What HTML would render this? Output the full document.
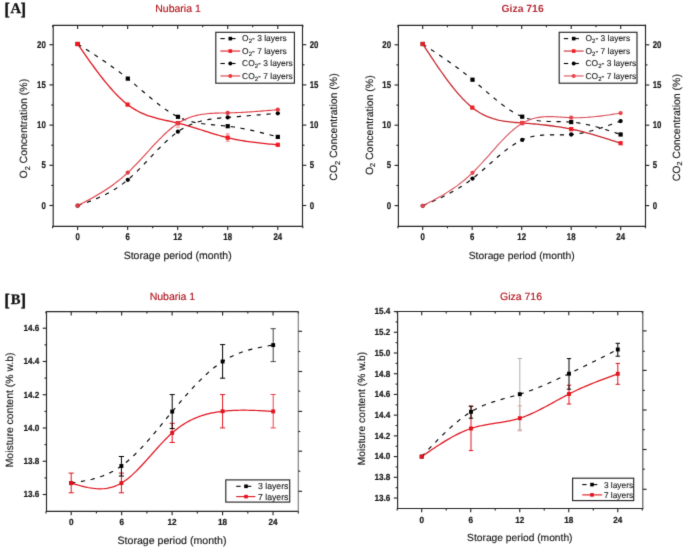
<!DOCTYPE html>
<html><head><meta charset="utf-8"><style>
html,body{margin:0;padding:0;background:#fff;}
svg{display:block;font-family:"Liberation Sans", sans-serif;text-rendering:geometricPrecision;}
</style></head><body>
<svg width="685" height="548" viewBox="0 0 685 548">
<defs><filter id="soft" x="0" y="0" width="100%" height="100%" color-interpolation-filters="sRGB"><feConvolveMatrix order="3" kernelMatrix="0.01134 0.08382 0.01134 0.08382 0.61935 0.08382 0.01134 0.08382 0.01134" divisor="1" edgeMode="duplicate"/></filter></defs>
<g filter="url(#soft)">
<rect width="685" height="548" fill="#fff"/>
<path d="M53.20,226.30 L53.20,25.30 L302.50,25.30" fill="none" stroke="#262626" stroke-width="1.15" stroke-linecap="square"/>
<path d="M53.20,226.30 L302.50,226.30" fill="none" stroke="#262626" stroke-width="1.15" stroke-linecap="square"/>
<path d="M302.50,25.30 L302.50,226.30" fill="none" stroke="#262626" stroke-width="1.15" stroke-linecap="square"/>
<line x1="77.60" y1="226.30" x2="77.60" y2="230.10" stroke="#262626" stroke-width="1.15" />
<line x1="77.60" y1="25.30" x2="77.60" y2="29.10" stroke="#262626" stroke-width="1.15" />
<text x="0" y="0" transform="translate(77.60,239.90) scale(0.8,1)" font-size="9.8" text-anchor="middle" font-weight="bold" fill="#1a1a1a" stroke="#111" stroke-width="0.22" style="">0</text>
<line x1="127.64" y1="226.30" x2="127.64" y2="230.10" stroke="#262626" stroke-width="1.15" />
<line x1="127.64" y1="25.30" x2="127.64" y2="29.10" stroke="#262626" stroke-width="1.15" />
<text x="0" y="0" transform="translate(127.64,239.90) scale(0.8,1)" font-size="9.8" text-anchor="middle" font-weight="bold" fill="#1a1a1a" stroke="#111" stroke-width="0.22" style="">6</text>
<line x1="177.68" y1="226.30" x2="177.68" y2="230.10" stroke="#262626" stroke-width="1.15" />
<line x1="177.68" y1="25.30" x2="177.68" y2="29.10" stroke="#262626" stroke-width="1.15" />
<text x="0" y="0" transform="translate(177.68,239.90) scale(0.8,1)" font-size="9.8" text-anchor="middle" font-weight="bold" fill="#1a1a1a" stroke="#111" stroke-width="0.22" style="">12</text>
<line x1="227.72" y1="226.30" x2="227.72" y2="230.10" stroke="#262626" stroke-width="1.15" />
<line x1="227.72" y1="25.30" x2="227.72" y2="29.10" stroke="#262626" stroke-width="1.15" />
<text x="0" y="0" transform="translate(227.72,239.90) scale(0.8,1)" font-size="9.8" text-anchor="middle" font-weight="bold" fill="#1a1a1a" stroke="#111" stroke-width="0.22" style="">18</text>
<line x1="277.76" y1="226.30" x2="277.76" y2="230.10" stroke="#262626" stroke-width="1.15" />
<line x1="277.76" y1="25.30" x2="277.76" y2="29.10" stroke="#262626" stroke-width="1.15" />
<text x="0" y="0" transform="translate(277.76,239.90) scale(0.8,1)" font-size="9.8" text-anchor="middle" font-weight="bold" fill="#1a1a1a" stroke="#111" stroke-width="0.22" style="">24</text>
<line x1="52.58" y1="226.30" x2="52.58" y2="228.30" stroke="#262626" stroke-width="1.15" />
<line x1="52.58" y1="25.30" x2="52.58" y2="27.30" stroke="#262626" stroke-width="1.15" />
<line x1="102.62" y1="226.30" x2="102.62" y2="228.30" stroke="#262626" stroke-width="1.15" />
<line x1="102.62" y1="25.30" x2="102.62" y2="27.30" stroke="#262626" stroke-width="1.15" />
<line x1="152.66" y1="226.30" x2="152.66" y2="228.30" stroke="#262626" stroke-width="1.15" />
<line x1="152.66" y1="25.30" x2="152.66" y2="27.30" stroke="#262626" stroke-width="1.15" />
<line x1="202.70" y1="226.30" x2="202.70" y2="228.30" stroke="#262626" stroke-width="1.15" />
<line x1="202.70" y1="25.30" x2="202.70" y2="27.30" stroke="#262626" stroke-width="1.15" />
<line x1="252.74" y1="226.30" x2="252.74" y2="228.30" stroke="#262626" stroke-width="1.15" />
<line x1="252.74" y1="25.30" x2="252.74" y2="27.30" stroke="#262626" stroke-width="1.15" />
<line x1="302.78" y1="226.30" x2="302.78" y2="228.30" stroke="#262626" stroke-width="1.15" />
<line x1="302.78" y1="25.30" x2="302.78" y2="27.30" stroke="#262626" stroke-width="1.15" />
<line x1="49.40" y1="205.50" x2="53.20" y2="205.50" stroke="#262626" stroke-width="1.15" />
<text x="0" y="0" transform="translate(45.80,208.50) scale(0.8,1)" font-size="9.8" text-anchor="end" font-weight="bold" fill="#1a1a1a" stroke="#111" stroke-width="0.22" style="">0</text>
<line x1="49.40" y1="165.30" x2="53.20" y2="165.30" stroke="#262626" stroke-width="1.15" />
<text x="0" y="0" transform="translate(45.80,168.30) scale(0.8,1)" font-size="9.8" text-anchor="end" font-weight="bold" fill="#1a1a1a" stroke="#111" stroke-width="0.22" style="">5</text>
<line x1="49.40" y1="125.10" x2="53.20" y2="125.10" stroke="#262626" stroke-width="1.15" />
<text x="0" y="0" transform="translate(45.80,128.10) scale(0.8,1)" font-size="9.8" text-anchor="end" font-weight="bold" fill="#1a1a1a" stroke="#111" stroke-width="0.22" style="">10</text>
<line x1="49.40" y1="84.90" x2="53.20" y2="84.90" stroke="#262626" stroke-width="1.15" />
<text x="0" y="0" transform="translate(45.80,87.90) scale(0.8,1)" font-size="9.8" text-anchor="end" font-weight="bold" fill="#1a1a1a" stroke="#111" stroke-width="0.22" style="">15</text>
<line x1="49.40" y1="44.70" x2="53.20" y2="44.70" stroke="#262626" stroke-width="1.15" />
<text x="0" y="0" transform="translate(45.80,47.70) scale(0.8,1)" font-size="9.8" text-anchor="end" font-weight="bold" fill="#1a1a1a" stroke="#111" stroke-width="0.22" style="">20</text>
<line x1="51.20" y1="185.40" x2="53.20" y2="185.40" stroke="#262626" stroke-width="1.15" />
<line x1="51.20" y1="145.20" x2="53.20" y2="145.20" stroke="#262626" stroke-width="1.15" />
<line x1="51.20" y1="105.00" x2="53.20" y2="105.00" stroke="#262626" stroke-width="1.15" />
<line x1="51.20" y1="64.80" x2="53.20" y2="64.80" stroke="#262626" stroke-width="1.15" />
<line x1="302.50" y1="205.50" x2="306.30" y2="205.50" stroke="#262626" stroke-width="1.15" />
<text x="0" y="0" transform="translate(309.70,208.50) scale(0.8,1)" font-size="9.8" text-anchor="start" font-weight="bold" fill="#1a1a1a" stroke="#111" stroke-width="0.22" style="">0</text>
<line x1="302.50" y1="165.30" x2="306.30" y2="165.30" stroke="#262626" stroke-width="1.15" />
<text x="0" y="0" transform="translate(309.70,168.30) scale(0.8,1)" font-size="9.8" text-anchor="start" font-weight="bold" fill="#1a1a1a" stroke="#111" stroke-width="0.22" style="">5</text>
<line x1="302.50" y1="125.10" x2="306.30" y2="125.10" stroke="#262626" stroke-width="1.15" />
<text x="0" y="0" transform="translate(309.70,128.10) scale(0.8,1)" font-size="9.8" text-anchor="start" font-weight="bold" fill="#1a1a1a" stroke="#111" stroke-width="0.22" style="">10</text>
<line x1="302.50" y1="84.90" x2="306.30" y2="84.90" stroke="#262626" stroke-width="1.15" />
<text x="0" y="0" transform="translate(309.70,87.90) scale(0.8,1)" font-size="9.8" text-anchor="start" font-weight="bold" fill="#1a1a1a" stroke="#111" stroke-width="0.22" style="">15</text>
<line x1="302.50" y1="44.70" x2="306.30" y2="44.70" stroke="#262626" stroke-width="1.15" />
<text x="0" y="0" transform="translate(309.70,47.70) scale(0.8,1)" font-size="9.8" text-anchor="start" font-weight="bold" fill="#1a1a1a" stroke="#111" stroke-width="0.22" style="">20</text>
<line x1="302.50" y1="185.40" x2="304.50" y2="185.40" stroke="#262626" stroke-width="1.15" />
<line x1="302.50" y1="145.20" x2="304.50" y2="145.20" stroke="#262626" stroke-width="1.15" />
<line x1="302.50" y1="105.00" x2="304.50" y2="105.00" stroke="#262626" stroke-width="1.15" />
<line x1="302.50" y1="64.80" x2="304.50" y2="64.80" stroke="#262626" stroke-width="1.15" />
<text x="0" y="0" font-size="10.5" text-anchor="middle" fill="#1a1a1a" stroke="#1a1a1a" stroke-width="0.15" transform="translate(27.00,128.65) rotate(-90)">O<tspan font-size="7.2" dy="2.6">2</tspan><tspan dy="-2.6"> Concentration (%)</tspan></text>
<text x="0" y="0" font-size="10.5" text-anchor="middle" fill="#1a1a1a" stroke="#1a1a1a" stroke-width="0.15" transform="translate(337.00,127.00) rotate(-90)">CO<tspan font-size="7.2" dy="2.6">2</tspan><tspan dy="-2.6"> Concentration (%)</tspan></text>
<text x="177.70" y="258.90" font-size="10.5" text-anchor="middle" font-weight="normal" fill="#1a1a1a" stroke="#1a1a1a" stroke-width="0.15" style="">Storage period (month)</text>
<path d="M77.60,44.00 L79.69,45.31 L81.78,46.63 L83.88,47.95 L85.97,49.27 L88.06,50.60 L90.15,51.94 L92.24,53.28 L94.33,54.63 L96.42,55.99 L98.52,57.37 L100.61,58.76 L102.70,60.16 L104.79,61.58 L106.88,63.01 L108.97,64.46 L111.07,65.94 L113.16,67.43 L115.25,68.95 L117.34,70.49 L119.43,72.06 L121.53,73.65 L123.62,75.27 L125.71,76.92 L127.80,78.60 L129.89,80.31 L131.98,82.05 L134.07,83.81 L136.17,85.58 L138.26,87.37 L140.35,89.16 L142.44,90.96 L144.53,92.75 L146.62,94.53 L148.72,96.30 L150.81,98.05 L152.90,99.78 L154.99,101.47 L157.08,103.14 L159.18,104.76 L161.27,106.34 L163.36,107.88 L165.45,109.35 L167.54,110.77 L169.63,112.13 L171.72,113.41 L173.82,114.62 L175.91,115.75 L178.00,116.80 L180.07,117.75 L182.14,118.62 L184.21,119.41 L186.28,120.12 L188.35,120.77 L190.43,121.35 L192.50,121.87 L194.57,122.34 L196.64,122.76 L198.71,123.13 L200.78,123.46 L202.85,123.76 L204.92,124.02 L206.99,124.26 L209.06,124.47 L211.13,124.67 L213.20,124.86 L215.27,125.04 L217.35,125.21 L219.42,125.39 L221.49,125.57 L223.56,125.76 L225.63,125.97 L227.70,126.20 L229.79,126.46 L231.88,126.73 L233.96,127.04 L236.05,127.36 L238.14,127.71 L240.22,128.08 L242.31,128.46 L244.40,128.86 L246.49,129.28 L248.57,129.72 L250.66,130.17 L252.75,130.64 L254.84,131.11 L256.93,131.60 L259.01,132.10 L261.10,132.61 L263.19,133.13 L265.27,133.65 L267.36,134.19 L269.45,134.72 L271.54,135.26 L273.62,135.81 L275.71,136.35 L277.80,136.90" fill="none" stroke="#000" stroke-width="1.15" stroke-dasharray="4.2 5.7" stroke-linejoin="round"/>
<path d="M77.60,44.00 L79.68,46.99 L81.77,49.97 L83.85,52.95 L85.93,55.91 L88.02,58.85 L90.10,61.76 L92.18,64.65 L94.27,67.50 L96.35,70.32 L98.43,73.09 L100.52,75.81 L102.60,78.48 L104.68,81.09 L106.77,83.64 L108.85,86.12 L110.93,88.53 L113.02,90.86 L115.10,93.11 L117.18,95.27 L119.27,97.34 L121.35,99.31 L123.43,101.18 L125.52,102.95 L127.60,104.60 L129.70,106.15 L131.79,107.58 L133.89,108.92 L135.98,110.15 L138.08,111.28 L140.18,112.33 L142.27,113.30 L144.37,114.20 L146.46,115.02 L148.56,115.78 L150.65,116.48 L152.75,117.13 L154.85,117.74 L156.94,118.30 L159.04,118.84 L161.13,119.34 L163.23,119.82 L165.32,120.29 L167.42,120.75 L169.52,121.20 L171.61,121.66 L173.71,122.12 L175.80,122.60 L177.90,123.10 L179.97,123.62 L182.05,124.16 L184.12,124.72 L186.20,125.31 L188.28,125.91 L190.35,126.52 L192.43,127.15 L194.50,127.79 L196.57,128.44 L198.65,129.09 L200.72,129.75 L202.80,130.41 L204.88,131.07 L206.95,131.73 L209.03,132.38 L211.10,133.02 L213.17,133.66 L215.25,134.29 L217.32,134.90 L219.40,135.50 L221.47,136.08 L223.55,136.64 L225.62,137.18 L227.70,137.70 L229.79,138.19 L231.88,138.66 L233.96,139.11 L236.05,139.53 L238.14,139.93 L240.22,140.30 L242.31,140.66 L244.40,141.00 L246.49,141.32 L248.57,141.63 L250.66,141.92 L252.75,142.20 L254.84,142.46 L256.93,142.71 L259.01,142.95 L261.10,143.18 L263.19,143.40 L265.27,143.62 L267.36,143.82 L269.45,144.03 L271.54,144.22 L273.62,144.42 L275.71,144.61 L277.80,144.80" fill="none" stroke="#e0141e" stroke-width="1.3"  stroke-linejoin="round"/>
<path d="M77.60,205.70 L79.69,204.96 L81.78,204.22 L83.88,203.47 L85.97,202.71 L88.06,201.94 L90.15,201.15 L92.24,200.34 L94.33,199.50 L96.42,198.64 L98.52,197.74 L100.61,196.80 L102.70,195.83 L104.79,194.82 L106.88,193.75 L108.97,192.64 L111.07,191.48 L113.16,190.25 L115.25,188.97 L117.34,187.62 L119.43,186.21 L121.53,184.72 L123.62,183.16 L125.71,181.52 L127.80,179.80 L129.89,178.00 L131.97,176.12 L134.06,174.17 L136.15,172.16 L138.24,170.10 L140.32,168.00 L142.41,165.85 L144.50,163.68 L146.59,161.49 L148.68,159.29 L150.76,157.08 L152.85,154.88 L154.94,152.68 L157.03,150.51 L159.11,148.37 L161.20,146.26 L163.29,144.20 L165.38,142.19 L167.46,140.24 L169.55,138.36 L171.64,136.56 L173.73,134.85 L175.81,133.22 L177.90,131.70 L179.97,130.29 L182.05,128.99 L184.12,127.79 L186.20,126.68 L188.28,125.66 L190.35,124.73 L192.43,123.87 L194.50,123.10 L196.57,122.39 L198.65,121.76 L200.72,121.18 L202.80,120.67 L204.88,120.21 L206.95,119.80 L209.03,119.43 L211.10,119.10 L213.17,118.81 L215.25,118.55 L217.32,118.32 L219.40,118.11 L221.47,117.92 L223.55,117.74 L225.62,117.57 L227.70,117.40 L229.79,117.23 L231.88,117.06 L233.96,116.90 L236.05,116.73 L238.14,116.56 L240.22,116.39 L242.31,116.22 L244.40,116.05 L246.49,115.88 L248.57,115.71 L250.66,115.54 L252.75,115.37 L254.84,115.19 L256.93,115.02 L259.01,114.85 L261.10,114.68 L263.19,114.51 L265.27,114.33 L267.36,114.16 L269.45,113.99 L271.54,113.82 L273.62,113.65 L275.71,113.47 L277.80,113.30" fill="none" stroke="#000" stroke-width="1.15" stroke-dasharray="4.2 5.7" stroke-linejoin="round"/>
<path d="M77.60,205.70 L79.69,204.61 L81.78,203.52 L83.88,202.42 L85.97,201.32 L88.06,200.20 L90.15,199.06 L92.24,197.91 L94.33,196.74 L96.42,195.54 L98.52,194.31 L100.61,193.06 L102.70,191.77 L104.79,190.45 L106.88,189.08 L108.97,187.67 L111.07,186.22 L113.16,184.72 L115.25,183.17 L117.34,181.56 L119.43,179.90 L121.53,178.17 L123.62,176.38 L125.71,174.53 L127.80,172.60 L129.89,170.61 L131.97,168.55 L134.06,166.44 L136.15,164.28 L138.24,162.07 L140.32,159.84 L142.41,157.58 L144.50,155.31 L146.59,153.03 L148.68,150.75 L150.76,148.48 L152.85,146.22 L154.94,143.99 L157.03,141.79 L159.11,139.64 L161.20,137.53 L163.29,135.48 L165.38,133.49 L167.46,131.58 L169.55,129.75 L171.64,128.01 L173.73,126.36 L175.81,124.82 L177.90,123.40 L179.97,122.10 L182.05,120.92 L184.12,119.85 L186.20,118.88 L188.28,118.01 L190.35,117.23 L192.43,116.54 L194.50,115.93 L196.57,115.40 L198.65,114.94 L200.72,114.55 L202.80,114.21 L204.88,113.93 L206.95,113.70 L209.03,113.51 L211.10,113.37 L213.17,113.25 L215.25,113.16 L217.32,113.10 L219.40,113.05 L221.47,113.01 L223.55,112.97 L225.62,112.94 L227.70,112.90 L229.79,112.85 L231.88,112.79 L233.96,112.72 L236.05,112.64 L238.14,112.55 L240.22,112.45 L242.31,112.34 L244.40,112.23 L246.49,112.11 L248.57,111.98 L250.66,111.84 L252.75,111.70 L254.84,111.55 L256.93,111.40 L259.01,111.24 L261.10,111.08 L263.19,110.92 L265.27,110.75 L267.36,110.58 L269.45,110.41 L271.54,110.23 L273.62,110.06 L275.71,109.88 L277.80,109.70" fill="none" stroke="#e03a42" stroke-width="1.1"  stroke-linejoin="round"/>
<line x1="227.70" y1="133.90" x2="227.70" y2="141.20" stroke="#f07070" stroke-width="0.9" />
<line x1="225.80" y1="133.90" x2="229.60" y2="133.90" stroke="#f07070" stroke-width="0.9" />
<line x1="225.80" y1="141.20" x2="229.60" y2="141.20" stroke="#f07070" stroke-width="0.9" />
<line x1="176.00" y1="127.10" x2="179.80" y2="127.10" stroke="#f07070" stroke-width="0.9" />
<rect x="75.50" y="41.90" width="4.2" height="4.2" fill="#000"/>
<rect x="125.70" y="76.50" width="4.2" height="4.2" fill="#000"/>
<rect x="175.90" y="114.70" width="4.2" height="4.2" fill="#000"/>
<rect x="225.60" y="124.10" width="4.2" height="4.2" fill="#000"/>
<rect x="275.70" y="134.80" width="4.2" height="4.2" fill="#000"/>
<rect x="75.50" y="41.90" width="4.2" height="4.2" fill="#f01820"/>
<rect x="125.50" y="102.50" width="4.2" height="4.2" fill="#f01820"/>
<rect x="175.80" y="121.00" width="4.2" height="4.2" fill="#f01820"/>
<rect x="225.60" y="135.60" width="4.2" height="4.2" fill="#f01820"/>
<rect x="275.70" y="142.70" width="4.2" height="4.2" fill="#f01820"/>
<circle cx="77.60" cy="205.70" r="2.15" fill="#000"/>
<circle cx="127.80" cy="179.80" r="2.15" fill="#000"/>
<circle cx="177.90" cy="131.70" r="2.15" fill="#000"/>
<circle cx="227.70" cy="117.40" r="2.15" fill="#000"/>
<circle cx="277.80" cy="113.30" r="2.15" fill="#000"/>
<circle cx="77.60" cy="205.70" r="2.15" fill="#e03a42"/>
<circle cx="127.80" cy="172.60" r="2.15" fill="#e03a42"/>
<circle cx="177.90" cy="123.40" r="2.15" fill="#e03a42"/>
<circle cx="227.70" cy="112.90" r="2.15" fill="#e03a42"/>
<circle cx="277.80" cy="109.70" r="2.15" fill="#e03a42"/>
<rect x="215.8" y="32.3" width="78.59999999999997" height="50.900000000000006" fill="#fff" stroke="#262626" stroke-width="1.15"/>
<line x1="220.40" y1="38.60" x2="224.80" y2="38.60" stroke="#000" stroke-width="1.1" />
<line x1="230.30" y1="38.60" x2="235.50" y2="38.60" stroke="#000" stroke-width="1.1" />
<rect x="228.50" y="36.80" width="3.6" height="3.6" fill="#000"/>
<text x="242.10" y="41.20" font-size="8.45" text-anchor="start" font-weight="normal" fill="#1a1a1a" stroke="#1a1a1a" stroke-width="0.12" style="">O<tspan font-size="6" dy="2">2</tspan><tspan dy="-2">-&#160;3 layers</tspan></text>
<line x1="220.40" y1="51.05" x2="240.20" y2="51.05" stroke="#e0141e" stroke-width="1.1" />
<rect x="228.50" y="49.25" width="3.6" height="3.6" fill="#f01820"/>
<text x="242.10" y="53.65" font-size="8.45" text-anchor="start" font-weight="normal" fill="#1a1a1a" stroke="#1a1a1a" stroke-width="0.12" style="">O<tspan font-size="6" dy="2">2</tspan><tspan dy="-2">-&#160;7 layers</tspan></text>
<line x1="220.40" y1="63.50" x2="224.80" y2="63.50" stroke="#000" stroke-width="1.1" />
<line x1="230.30" y1="63.50" x2="235.50" y2="63.50" stroke="#000" stroke-width="1.1" />
<circle cx="230.30" cy="63.50" r="2.00" fill="#000"/>
<text x="242.10" y="66.10" font-size="8.45" text-anchor="start" font-weight="normal" fill="#1a1a1a" stroke="#1a1a1a" stroke-width="0.12" style="">CO<tspan font-size="6" dy="2">2</tspan><tspan dy="-2">-&#160;3 layers</tspan></text>
<line x1="220.40" y1="75.95" x2="240.20" y2="75.95" stroke="#e03a42" stroke-width="1.1" />
<circle cx="230.30" cy="75.95" r="2.00" fill="#e03a42"/>
<text x="242.10" y="78.55" font-size="8.45" text-anchor="start" font-weight="normal" fill="#1a1a1a" stroke="#1a1a1a" stroke-width="0.12" style="">CO<tspan font-size="6" dy="2">2</tspan><tspan dy="-2">-&#160;7 layers</tspan></text>
<text x="178.00" y="12.20" font-size="10.5" text-anchor="middle" font-weight="normal" fill="#b0141c" stroke="#b0141c" stroke-width="0.15" style="">Nubaria 1</text>
<path d="M398.40,226.30 L398.40,25.30 L645.50,25.30" fill="none" stroke="#262626" stroke-width="1.15" stroke-linecap="square"/>
<path d="M398.40,226.30 L645.50,226.30" fill="none" stroke="#262626" stroke-width="1.15" stroke-linecap="square"/>
<path d="M645.50,25.30 L645.50,226.30" fill="none" stroke="#262626" stroke-width="1.15" stroke-linecap="square"/>
<line x1="422.70" y1="226.30" x2="422.70" y2="230.10" stroke="#262626" stroke-width="1.15" />
<line x1="422.70" y1="25.30" x2="422.70" y2="29.10" stroke="#262626" stroke-width="1.15" />
<text x="0" y="0" transform="translate(422.70,239.90) scale(0.8,1)" font-size="9.8" text-anchor="middle" font-weight="bold" fill="#1a1a1a" stroke="#111" stroke-width="0.22" style="">0</text>
<line x1="472.20" y1="226.30" x2="472.20" y2="230.10" stroke="#262626" stroke-width="1.15" />
<line x1="472.20" y1="25.30" x2="472.20" y2="29.10" stroke="#262626" stroke-width="1.15" />
<text x="0" y="0" transform="translate(472.20,239.90) scale(0.8,1)" font-size="9.8" text-anchor="middle" font-weight="bold" fill="#1a1a1a" stroke="#111" stroke-width="0.22" style="">6</text>
<line x1="521.70" y1="226.30" x2="521.70" y2="230.10" stroke="#262626" stroke-width="1.15" />
<line x1="521.70" y1="25.30" x2="521.70" y2="29.10" stroke="#262626" stroke-width="1.15" />
<text x="0" y="0" transform="translate(521.70,239.90) scale(0.8,1)" font-size="9.8" text-anchor="middle" font-weight="bold" fill="#1a1a1a" stroke="#111" stroke-width="0.22" style="">12</text>
<line x1="571.20" y1="226.30" x2="571.20" y2="230.10" stroke="#262626" stroke-width="1.15" />
<line x1="571.20" y1="25.30" x2="571.20" y2="29.10" stroke="#262626" stroke-width="1.15" />
<text x="0" y="0" transform="translate(571.20,239.90) scale(0.8,1)" font-size="9.8" text-anchor="middle" font-weight="bold" fill="#1a1a1a" stroke="#111" stroke-width="0.22" style="">18</text>
<line x1="620.70" y1="226.30" x2="620.70" y2="230.10" stroke="#262626" stroke-width="1.15" />
<line x1="620.70" y1="25.30" x2="620.70" y2="29.10" stroke="#262626" stroke-width="1.15" />
<text x="0" y="0" transform="translate(620.70,239.90) scale(0.8,1)" font-size="9.8" text-anchor="middle" font-weight="bold" fill="#1a1a1a" stroke="#111" stroke-width="0.22" style="">24</text>
<line x1="397.95" y1="226.30" x2="397.95" y2="228.30" stroke="#262626" stroke-width="1.15" />
<line x1="397.95" y1="25.30" x2="397.95" y2="27.30" stroke="#262626" stroke-width="1.15" />
<line x1="447.45" y1="226.30" x2="447.45" y2="228.30" stroke="#262626" stroke-width="1.15" />
<line x1="447.45" y1="25.30" x2="447.45" y2="27.30" stroke="#262626" stroke-width="1.15" />
<line x1="496.95" y1="226.30" x2="496.95" y2="228.30" stroke="#262626" stroke-width="1.15" />
<line x1="496.95" y1="25.30" x2="496.95" y2="27.30" stroke="#262626" stroke-width="1.15" />
<line x1="546.45" y1="226.30" x2="546.45" y2="228.30" stroke="#262626" stroke-width="1.15" />
<line x1="546.45" y1="25.30" x2="546.45" y2="27.30" stroke="#262626" stroke-width="1.15" />
<line x1="595.95" y1="226.30" x2="595.95" y2="228.30" stroke="#262626" stroke-width="1.15" />
<line x1="595.95" y1="25.30" x2="595.95" y2="27.30" stroke="#262626" stroke-width="1.15" />
<line x1="645.45" y1="226.30" x2="645.45" y2="228.30" stroke="#262626" stroke-width="1.15" />
<line x1="645.45" y1="25.30" x2="645.45" y2="27.30" stroke="#262626" stroke-width="1.15" />
<line x1="394.60" y1="205.60" x2="398.40" y2="205.60" stroke="#262626" stroke-width="1.15" />
<text x="0" y="0" transform="translate(391.00,208.60) scale(0.8,1)" font-size="9.8" text-anchor="end" font-weight="bold" fill="#1a1a1a" stroke="#111" stroke-width="0.22" style="">0</text>
<line x1="394.60" y1="165.40" x2="398.40" y2="165.40" stroke="#262626" stroke-width="1.15" />
<text x="0" y="0" transform="translate(391.00,168.40) scale(0.8,1)" font-size="9.8" text-anchor="end" font-weight="bold" fill="#1a1a1a" stroke="#111" stroke-width="0.22" style="">5</text>
<line x1="394.60" y1="125.20" x2="398.40" y2="125.20" stroke="#262626" stroke-width="1.15" />
<text x="0" y="0" transform="translate(391.00,128.20) scale(0.8,1)" font-size="9.8" text-anchor="end" font-weight="bold" fill="#1a1a1a" stroke="#111" stroke-width="0.22" style="">10</text>
<line x1="394.60" y1="85.00" x2="398.40" y2="85.00" stroke="#262626" stroke-width="1.15" />
<text x="0" y="0" transform="translate(391.00,88.00) scale(0.8,1)" font-size="9.8" text-anchor="end" font-weight="bold" fill="#1a1a1a" stroke="#111" stroke-width="0.22" style="">15</text>
<line x1="394.60" y1="44.80" x2="398.40" y2="44.80" stroke="#262626" stroke-width="1.15" />
<text x="0" y="0" transform="translate(391.00,47.80) scale(0.8,1)" font-size="9.8" text-anchor="end" font-weight="bold" fill="#1a1a1a" stroke="#111" stroke-width="0.22" style="">20</text>
<line x1="396.40" y1="185.50" x2="398.40" y2="185.50" stroke="#262626" stroke-width="1.15" />
<line x1="396.40" y1="145.30" x2="398.40" y2="145.30" stroke="#262626" stroke-width="1.15" />
<line x1="396.40" y1="105.10" x2="398.40" y2="105.10" stroke="#262626" stroke-width="1.15" />
<line x1="396.40" y1="64.90" x2="398.40" y2="64.90" stroke="#262626" stroke-width="1.15" />
<line x1="645.50" y1="205.60" x2="649.30" y2="205.60" stroke="#262626" stroke-width="1.15" />
<text x="0" y="0" transform="translate(652.70,208.60) scale(0.8,1)" font-size="9.8" text-anchor="start" font-weight="bold" fill="#1a1a1a" stroke="#111" stroke-width="0.22" style="">0</text>
<line x1="645.50" y1="165.40" x2="649.30" y2="165.40" stroke="#262626" stroke-width="1.15" />
<text x="0" y="0" transform="translate(652.70,168.40) scale(0.8,1)" font-size="9.8" text-anchor="start" font-weight="bold" fill="#1a1a1a" stroke="#111" stroke-width="0.22" style="">5</text>
<line x1="645.50" y1="125.20" x2="649.30" y2="125.20" stroke="#262626" stroke-width="1.15" />
<text x="0" y="0" transform="translate(652.70,128.20) scale(0.8,1)" font-size="9.8" text-anchor="start" font-weight="bold" fill="#1a1a1a" stroke="#111" stroke-width="0.22" style="">10</text>
<line x1="645.50" y1="85.00" x2="649.30" y2="85.00" stroke="#262626" stroke-width="1.15" />
<text x="0" y="0" transform="translate(652.70,88.00) scale(0.8,1)" font-size="9.8" text-anchor="start" font-weight="bold" fill="#1a1a1a" stroke="#111" stroke-width="0.22" style="">15</text>
<line x1="645.50" y1="44.80" x2="649.30" y2="44.80" stroke="#262626" stroke-width="1.15" />
<text x="0" y="0" transform="translate(652.70,47.80) scale(0.8,1)" font-size="9.8" text-anchor="start" font-weight="bold" fill="#1a1a1a" stroke="#111" stroke-width="0.22" style="">20</text>
<line x1="645.50" y1="185.50" x2="647.50" y2="185.50" stroke="#262626" stroke-width="1.15" />
<line x1="645.50" y1="145.30" x2="647.50" y2="145.30" stroke="#262626" stroke-width="1.15" />
<line x1="645.50" y1="105.10" x2="647.50" y2="105.10" stroke="#262626" stroke-width="1.15" />
<line x1="645.50" y1="64.90" x2="647.50" y2="64.90" stroke="#262626" stroke-width="1.15" />
<text x="0" y="0" font-size="10.5" text-anchor="middle" fill="#1a1a1a" stroke="#1a1a1a" stroke-width="0.15" transform="translate(372.50,125.20) rotate(-90)">O<tspan font-size="7.2" dy="2.6">2</tspan><tspan dy="-2.6"> Concentration (%)</tspan></text>
<text x="0" y="0" font-size="10.5" text-anchor="middle" fill="#1a1a1a" stroke="#1a1a1a" stroke-width="0.15" transform="translate(679.50,127.70) rotate(-90)">CO<tspan font-size="7.2" dy="2.6">2</tspan><tspan dy="-2.6"> Concentration (%)</tspan></text>
<text x="521.70" y="258.90" font-size="10.3" text-anchor="middle" font-weight="normal" fill="#1a1a1a" stroke="#1a1a1a" stroke-width="0.15" style="">Storage period (month)</text>
<path d="M422.70,44.00 L424.77,45.37 L426.85,46.75 L428.93,48.12 L431.00,49.50 L433.07,50.89 L435.15,52.28 L437.22,53.67 L439.30,55.08 L441.38,56.50 L443.45,57.92 L445.52,59.36 L447.60,60.81 L449.68,62.28 L451.75,63.76 L453.82,65.26 L455.90,66.77 L457.98,68.31 L460.05,69.87 L462.12,71.44 L464.20,73.05 L466.27,74.67 L468.35,76.32 L470.43,78.00 L472.50,79.70 L474.57,81.43 L476.64,83.18 L478.71,84.95 L480.78,86.73 L482.85,88.52 L484.93,90.31 L487.00,92.10 L489.07,93.88 L491.14,95.64 L493.21,97.38 L495.28,99.10 L497.35,100.79 L499.42,102.44 L501.49,104.05 L503.56,105.62 L505.63,107.13 L507.70,108.58 L509.78,109.98 L511.85,111.30 L513.92,112.55 L515.99,113.72 L518.06,114.80 L520.13,115.80 L522.20,116.70 L524.24,117.49 L526.28,118.19 L528.33,118.80 L530.37,119.34 L532.41,119.79 L534.45,120.18 L536.49,120.51 L538.53,120.78 L540.58,121.00 L542.62,121.17 L544.66,121.30 L546.70,121.40 L548.74,121.47 L550.78,121.52 L552.83,121.56 L554.87,121.58 L556.91,121.60 L558.95,121.62 L560.99,121.65 L563.03,121.69 L565.08,121.75 L567.12,121.83 L569.16,121.95 L571.20,122.10 L573.26,122.29 L575.32,122.53 L577.38,122.80 L579.43,123.12 L581.49,123.46 L583.55,123.85 L585.61,124.26 L587.67,124.71 L589.73,125.18 L591.78,125.68 L593.84,126.20 L595.90,126.75 L597.96,127.32 L600.02,127.91 L602.08,128.52 L604.13,129.14 L606.19,129.78 L608.25,130.43 L610.31,131.09 L612.37,131.77 L614.43,132.44 L616.48,133.13 L618.54,133.81 L620.60,134.50" fill="none" stroke="#000" stroke-width="1.15" stroke-dasharray="4.2 5.7" stroke-linejoin="round"/>
<path d="M422.70,44.00 L424.77,47.15 L426.83,50.30 L428.90,53.44 L430.97,56.56 L433.03,59.66 L435.10,62.74 L437.17,65.78 L439.23,68.79 L441.30,71.75 L443.37,74.67 L445.43,77.53 L447.50,80.34 L449.57,83.08 L451.63,85.76 L453.70,88.36 L455.77,90.88 L457.83,93.32 L459.90,95.67 L461.97,97.93 L464.03,100.08 L466.10,102.13 L468.17,104.07 L470.23,105.90 L472.30,107.60 L474.38,109.19 L476.46,110.65 L478.54,112.00 L480.62,113.24 L482.70,114.37 L484.78,115.40 L486.85,116.34 L488.93,117.19 L491.01,117.95 L493.09,118.63 L495.17,119.24 L497.25,119.79 L499.33,120.27 L501.41,120.69 L503.49,121.06 L505.57,121.39 L507.65,121.68 L509.73,121.93 L511.80,122.15 L513.88,122.35 L515.96,122.52 L518.04,122.69 L520.12,122.85 L522.20,123.00 L524.24,123.15 L526.28,123.31 L528.33,123.47 L530.37,123.64 L532.41,123.81 L534.45,123.99 L536.49,124.18 L538.53,124.37 L540.58,124.57 L542.62,124.78 L544.66,125.00 L546.70,125.24 L548.74,125.48 L550.78,125.73 L552.83,126.00 L554.87,126.28 L556.91,126.58 L558.95,126.89 L560.99,127.21 L563.03,127.56 L565.08,127.91 L567.12,128.29 L569.16,128.69 L571.20,129.10 L573.26,129.54 L575.32,129.99 L577.38,130.47 L579.43,130.96 L581.49,131.47 L583.55,131.99 L585.61,132.53 L587.67,133.09 L589.73,133.65 L591.78,134.23 L593.84,134.83 L595.90,135.43 L597.96,136.04 L600.02,136.66 L602.08,137.29 L604.13,137.93 L606.19,138.57 L608.25,139.22 L610.31,139.88 L612.37,140.54 L614.43,141.20 L616.48,141.87 L618.54,142.53 L620.60,143.20" fill="none" stroke="#c8282f" stroke-width="1.3"  stroke-linejoin="round"/>
<path d="M422.70,205.80 L424.77,204.90 L426.85,204.00 L428.93,203.09 L431.00,202.18 L433.07,201.26 L435.15,200.32 L437.22,199.37 L439.30,198.41 L441.38,197.42 L443.45,196.41 L445.52,195.38 L447.60,194.32 L449.68,193.23 L451.75,192.11 L453.82,190.95 L455.90,189.76 L457.98,188.53 L460.05,187.25 L462.12,185.93 L464.20,184.57 L466.27,183.16 L468.35,181.69 L470.43,180.17 L472.50,178.60 L474.57,176.97 L476.64,175.29 L478.71,173.57 L480.78,171.81 L482.85,170.01 L484.93,168.20 L487.00,166.37 L489.07,164.54 L491.14,162.70 L493.21,160.87 L495.28,159.05 L497.35,157.25 L499.42,155.48 L501.49,153.74 L503.56,152.05 L505.63,150.41 L507.70,148.82 L509.78,147.30 L511.85,145.84 L513.92,144.47 L515.99,143.18 L518.06,141.99 L520.13,140.89 L522.20,139.90 L524.24,139.03 L526.28,138.27 L528.33,137.61 L530.37,137.04 L532.41,136.55 L534.45,136.14 L536.49,135.80 L538.53,135.52 L540.58,135.31 L542.62,135.14 L544.66,135.02 L546.70,134.94 L548.74,134.89 L550.78,134.86 L552.83,134.85 L554.87,134.85 L556.91,134.86 L558.95,134.87 L560.99,134.87 L563.03,134.85 L565.08,134.81 L567.12,134.74 L569.16,134.64 L571.20,134.50 L573.26,134.31 L575.32,134.07 L577.38,133.79 L579.43,133.46 L581.49,133.10 L583.55,132.69 L585.61,132.25 L587.67,131.77 L589.73,131.26 L591.78,130.72 L593.84,130.15 L595.90,129.56 L597.96,128.94 L600.02,128.30 L602.08,127.64 L604.13,126.96 L606.19,126.26 L608.25,125.55 L610.31,124.83 L612.37,124.09 L614.43,123.35 L616.48,122.61 L618.54,121.85 L620.60,121.10" fill="none" stroke="#000" stroke-width="1.15" stroke-dasharray="4.2 5.7" stroke-linejoin="round"/>
<path d="M422.70,205.80 L424.77,204.74 L426.85,203.68 L428.93,202.61 L431.00,201.53 L433.07,200.44 L435.15,199.33 L437.22,198.20 L439.30,197.05 L441.38,195.87 L443.45,194.66 L445.52,193.42 L447.60,192.15 L449.68,190.83 L451.75,189.47 L453.82,188.07 L455.90,186.61 L457.98,185.11 L460.05,183.54 L462.12,181.92 L464.20,180.23 L466.27,178.48 L468.35,176.66 L470.43,174.77 L472.50,172.80 L474.57,170.76 L476.64,168.65 L478.71,166.48 L480.78,164.25 L482.85,161.99 L484.93,159.69 L487.00,157.37 L489.07,155.04 L491.14,152.70 L493.21,150.36 L495.28,148.04 L497.35,145.74 L499.42,143.48 L501.49,141.25 L503.56,139.08 L505.63,136.96 L507.70,134.91 L509.78,132.95 L511.85,131.07 L513.92,129.28 L515.99,127.60 L518.06,126.04 L520.13,124.60 L522.20,123.30 L524.24,122.15 L526.28,121.13 L528.33,120.24 L530.37,119.47 L532.41,118.80 L534.45,118.24 L536.49,117.78 L538.53,117.40 L540.58,117.11 L542.62,116.89 L544.66,116.74 L546.70,116.65 L548.74,116.61 L550.78,116.62 L552.83,116.67 L554.87,116.75 L556.91,116.86 L558.95,116.98 L560.99,117.11 L563.03,117.25 L565.08,117.39 L567.12,117.51 L569.16,117.62 L571.20,117.70 L573.26,117.75 L575.32,117.77 L577.38,117.76 L579.43,117.73 L581.49,117.66 L583.55,117.57 L585.61,117.46 L587.67,117.32 L589.73,117.16 L591.78,116.98 L593.84,116.78 L595.90,116.57 L597.96,116.34 L600.02,116.09 L602.08,115.83 L604.13,115.56 L606.19,115.27 L608.25,114.98 L610.31,114.68 L612.37,114.37 L614.43,114.06 L616.48,113.74 L618.54,113.42 L620.60,113.10" fill="none" stroke="#d8505a" stroke-width="1.1"  stroke-linejoin="round"/>
<rect x="420.60" y="41.90" width="4.2" height="4.2" fill="#000"/>
<rect x="470.40" y="77.60" width="4.2" height="4.2" fill="#000"/>
<rect x="520.10" y="114.60" width="4.2" height="4.2" fill="#000"/>
<rect x="569.10" y="120.00" width="4.2" height="4.2" fill="#000"/>
<rect x="618.50" y="132.40" width="4.2" height="4.2" fill="#000"/>
<rect x="420.60" y="41.90" width="4.2" height="4.2" fill="#ee1c24"/>
<rect x="470.20" y="105.50" width="4.2" height="4.2" fill="#ee1c24"/>
<rect x="520.10" y="120.90" width="4.2" height="4.2" fill="#ee1c24"/>
<rect x="569.10" y="127.00" width="4.2" height="4.2" fill="#ee1c24"/>
<rect x="618.50" y="141.10" width="4.2" height="4.2" fill="#ee1c24"/>
<circle cx="422.70" cy="205.80" r="2.15" fill="#000"/>
<circle cx="472.50" cy="178.60" r="2.15" fill="#000"/>
<circle cx="522.20" cy="139.90" r="2.15" fill="#000"/>
<circle cx="571.20" cy="134.50" r="2.15" fill="#000"/>
<circle cx="620.60" cy="121.10" r="2.15" fill="#000"/>
<circle cx="422.70" cy="205.80" r="2.15" fill="#e8444a"/>
<circle cx="472.50" cy="172.80" r="2.15" fill="#e8444a"/>
<circle cx="522.20" cy="123.30" r="2.15" fill="#e8444a"/>
<circle cx="571.20" cy="117.70" r="2.15" fill="#e8444a"/>
<circle cx="620.60" cy="113.10" r="2.15" fill="#e8444a"/>
<rect x="559.2" y="32.3" width="77.79999999999995" height="50.900000000000006" fill="#fff" stroke="#262626" stroke-width="1.15"/>
<line x1="563.80" y1="38.60" x2="568.20" y2="38.60" stroke="#000" stroke-width="1.1" />
<line x1="573.70" y1="38.60" x2="578.90" y2="38.60" stroke="#000" stroke-width="1.1" />
<rect x="571.90" y="36.80" width="3.6" height="3.6" fill="#000"/>
<text x="585.50" y="41.20" font-size="8.45" text-anchor="start" font-weight="normal" fill="#1a1a1a" stroke="#1a1a1a" stroke-width="0.12" style="">O<tspan font-size="6" dy="2">2</tspan><tspan dy="-2">-&#160;3 layers</tspan></text>
<line x1="563.80" y1="51.05" x2="583.60" y2="51.05" stroke="#c8282f" stroke-width="1.1" />
<rect x="571.90" y="49.25" width="3.6" height="3.6" fill="#ee1c24"/>
<text x="585.50" y="53.65" font-size="8.45" text-anchor="start" font-weight="normal" fill="#1a1a1a" stroke="#1a1a1a" stroke-width="0.12" style="">O<tspan font-size="6" dy="2">2</tspan><tspan dy="-2">-&#160;7 layers</tspan></text>
<line x1="563.80" y1="63.50" x2="568.20" y2="63.50" stroke="#000" stroke-width="1.1" />
<line x1="573.70" y1="63.50" x2="578.90" y2="63.50" stroke="#000" stroke-width="1.1" />
<circle cx="573.70" cy="63.50" r="2.00" fill="#000"/>
<text x="585.50" y="66.10" font-size="8.45" text-anchor="start" font-weight="normal" fill="#1a1a1a" stroke="#1a1a1a" stroke-width="0.12" style="">CO<tspan font-size="6" dy="2">2</tspan><tspan dy="-2">-&#160;3 layers</tspan></text>
<line x1="563.80" y1="75.95" x2="583.60" y2="75.95" stroke="#d8505a" stroke-width="1.1" />
<circle cx="573.70" cy="75.95" r="2.00" fill="#e8444a"/>
<text x="585.50" y="78.55" font-size="8.45" text-anchor="start" font-weight="normal" fill="#1a1a1a" stroke="#1a1a1a" stroke-width="0.12" style="">CO<tspan font-size="6" dy="2">2</tspan><tspan dy="-2">-&#160;7 layers</tspan></text>
<text x="522.60" y="12.40" font-size="10.4" text-anchor="middle" font-weight="bold" fill="#b5303a"  style="">Giza 716</text>
<g transform="translate(4.6,14.5) scale(1,1.12)" font-family="'Liberation Serif', serif" font-weight="bold" fill="#111" font-size="15.6" stroke="#111" stroke-width="0.5"><text x="0" y="0">[</text><text x="16.1" y="0">]</text></g>
<text x="10.399999999999999" y="13.3" font-family="'Liberation Serif', serif" font-weight="bold" fill="#111" font-size="14.6" stroke="#111" stroke-width="0.3">A</text>
<g transform="translate(4.6,305.5) scale(1,1.12)" font-family="'Liberation Serif', serif" font-weight="bold" fill="#111" font-size="15.6" stroke="#111" stroke-width="0.5"><text x="0" y="0">[</text><text x="16.1" y="0">]</text></g>
<text x="10.8" y="303.8" font-family="'Liberation Serif', serif" font-weight="bold" fill="#111" font-size="14.6" stroke="#111" stroke-width="0.3">B</text>
<path d="M46.50,511.40 L46.50,311.60 L298.30,311.60" fill="none" stroke="#262626" stroke-width="1.15" stroke-linecap="square"/>
<path d="M46.50,511.40 L298.30,511.40" fill="none" stroke="#262626" stroke-width="1.15" stroke-linecap="square"/>
<path d="M298.30,311.60 L298.30,511.40" fill="none" stroke="#7c7c7c" stroke-width="1.15" stroke-linecap="square"/>
<line x1="71.20" y1="511.40" x2="71.20" y2="515.20" stroke="#262626" stroke-width="1.15" />
<line x1="71.20" y1="311.60" x2="71.20" y2="315.40" stroke="#262626" stroke-width="1.15" />
<text x="0" y="0" transform="translate(71.20,524.90) scale(0.92,1)" font-size="8.9" text-anchor="middle" font-weight="bold" fill="#1a1a1a" stroke="#111" stroke-width="0.22" style="">0</text>
<line x1="121.66" y1="511.40" x2="121.66" y2="515.20" stroke="#262626" stroke-width="1.15" />
<line x1="121.66" y1="311.60" x2="121.66" y2="315.40" stroke="#262626" stroke-width="1.15" />
<text x="0" y="0" transform="translate(121.66,524.90) scale(0.92,1)" font-size="8.9" text-anchor="middle" font-weight="bold" fill="#1a1a1a" stroke="#111" stroke-width="0.22" style="">6</text>
<line x1="172.12" y1="511.40" x2="172.12" y2="515.20" stroke="#262626" stroke-width="1.15" />
<line x1="172.12" y1="311.60" x2="172.12" y2="315.40" stroke="#262626" stroke-width="1.15" />
<text x="0" y="0" transform="translate(172.12,524.90) scale(0.92,1)" font-size="8.9" text-anchor="middle" font-weight="bold" fill="#1a1a1a" stroke="#111" stroke-width="0.22" style="">12</text>
<line x1="222.58" y1="511.40" x2="222.58" y2="515.20" stroke="#262626" stroke-width="1.15" />
<line x1="222.58" y1="311.60" x2="222.58" y2="315.40" stroke="#262626" stroke-width="1.15" />
<text x="0" y="0" transform="translate(222.58,524.90) scale(0.92,1)" font-size="8.9" text-anchor="middle" font-weight="bold" fill="#1a1a1a" stroke="#111" stroke-width="0.22" style="">18</text>
<line x1="273.04" y1="511.40" x2="273.04" y2="515.20" stroke="#262626" stroke-width="1.15" />
<line x1="273.04" y1="311.60" x2="273.04" y2="315.40" stroke="#262626" stroke-width="1.15" />
<text x="0" y="0" transform="translate(273.04,524.90) scale(0.92,1)" font-size="8.9" text-anchor="middle" font-weight="bold" fill="#1a1a1a" stroke="#111" stroke-width="0.22" style="">24</text>
<line x1="45.97" y1="511.40" x2="45.97" y2="513.40" stroke="#262626" stroke-width="1.15" />
<line x1="45.97" y1="311.60" x2="45.97" y2="313.60" stroke="#262626" stroke-width="1.15" />
<line x1="96.43" y1="511.40" x2="96.43" y2="513.40" stroke="#262626" stroke-width="1.15" />
<line x1="96.43" y1="311.60" x2="96.43" y2="313.60" stroke="#262626" stroke-width="1.15" />
<line x1="146.89" y1="511.40" x2="146.89" y2="513.40" stroke="#262626" stroke-width="1.15" />
<line x1="146.89" y1="311.60" x2="146.89" y2="313.60" stroke="#262626" stroke-width="1.15" />
<line x1="197.35" y1="511.40" x2="197.35" y2="513.40" stroke="#262626" stroke-width="1.15" />
<line x1="197.35" y1="311.60" x2="197.35" y2="313.60" stroke="#262626" stroke-width="1.15" />
<line x1="247.81" y1="511.40" x2="247.81" y2="513.40" stroke="#262626" stroke-width="1.15" />
<line x1="247.81" y1="311.60" x2="247.81" y2="313.60" stroke="#262626" stroke-width="1.15" />
<line x1="298.27" y1="511.40" x2="298.27" y2="513.40" stroke="#262626" stroke-width="1.15" />
<line x1="298.27" y1="311.60" x2="298.27" y2="313.60" stroke="#262626" stroke-width="1.15" />
<line x1="42.70" y1="494.52" x2="46.50" y2="494.52" stroke="#262626" stroke-width="1.15" />
<text x="0" y="0" transform="translate(39.30,497.37) scale(0.92,1)" font-size="8.9" text-anchor="end" font-weight="bold" fill="#1a1a1a" stroke="#111" stroke-width="0.22" style="">13.6</text>
<line x1="42.70" y1="461.26" x2="46.50" y2="461.26" stroke="#262626" stroke-width="1.15" />
<text x="0" y="0" transform="translate(39.30,464.11) scale(0.92,1)" font-size="8.9" text-anchor="end" font-weight="bold" fill="#1a1a1a" stroke="#111" stroke-width="0.22" style="">13.8</text>
<line x1="42.70" y1="428.00" x2="46.50" y2="428.00" stroke="#262626" stroke-width="1.15" />
<text x="0" y="0" transform="translate(39.30,430.85) scale(0.92,1)" font-size="8.9" text-anchor="end" font-weight="bold" fill="#1a1a1a" stroke="#111" stroke-width="0.22" style="">14.0</text>
<line x1="42.70" y1="394.74" x2="46.50" y2="394.74" stroke="#262626" stroke-width="1.15" />
<text x="0" y="0" transform="translate(39.30,397.59) scale(0.92,1)" font-size="8.9" text-anchor="end" font-weight="bold" fill="#1a1a1a" stroke="#111" stroke-width="0.22" style="">14.2</text>
<line x1="42.70" y1="361.48" x2="46.50" y2="361.48" stroke="#262626" stroke-width="1.15" />
<text x="0" y="0" transform="translate(39.30,364.33) scale(0.92,1)" font-size="8.9" text-anchor="end" font-weight="bold" fill="#1a1a1a" stroke="#111" stroke-width="0.22" style="">14.4</text>
<line x1="42.70" y1="328.22" x2="46.50" y2="328.22" stroke="#262626" stroke-width="1.15" />
<text x="0" y="0" transform="translate(39.30,331.07) scale(0.92,1)" font-size="8.9" text-anchor="end" font-weight="bold" fill="#1a1a1a" stroke="#111" stroke-width="0.22" style="">14.6</text>
<line x1="44.50" y1="477.89" x2="46.50" y2="477.89" stroke="#262626" stroke-width="1.15" />
<line x1="44.50" y1="444.63" x2="46.50" y2="444.63" stroke="#262626" stroke-width="1.15" />
<line x1="44.50" y1="411.37" x2="46.50" y2="411.37" stroke="#262626" stroke-width="1.15" />
<line x1="44.50" y1="378.11" x2="46.50" y2="378.11" stroke="#262626" stroke-width="1.15" />
<line x1="44.50" y1="344.85" x2="46.50" y2="344.85" stroke="#262626" stroke-width="1.15" />
<line x1="298.30" y1="331.30" x2="302.10" y2="331.30" stroke="#262626" stroke-width="1.15" />
<line x1="298.30" y1="371.50" x2="302.10" y2="371.50" stroke="#262626" stroke-width="1.15" />
<line x1="298.30" y1="411.40" x2="302.10" y2="411.40" stroke="#262626" stroke-width="1.15" />
<line x1="298.30" y1="451.20" x2="302.10" y2="451.20" stroke="#262626" stroke-width="1.15" />
<line x1="298.30" y1="491.30" x2="302.10" y2="491.30" stroke="#262626" stroke-width="1.15" />
<line x1="298.30" y1="351.50" x2="300.30" y2="351.50" stroke="#262626" stroke-width="1.15" />
<line x1="298.30" y1="391.20" x2="300.30" y2="391.20" stroke="#262626" stroke-width="1.15" />
<line x1="298.30" y1="431.50" x2="300.30" y2="431.50" stroke="#262626" stroke-width="1.15" />
<line x1="298.30" y1="471.20" x2="300.30" y2="471.20" stroke="#262626" stroke-width="1.15" />
<text x="0" y="0" font-size="10.45" text-anchor="middle" fill="#1a1a1a" stroke="#1a1a1a" stroke-width="0.15" transform="translate(13.00,409.90) rotate(-90)">Moisture content (% w.b)</text>
<text x="172.00" y="543.80" font-size="10.6" text-anchor="middle" font-weight="normal" fill="#1a1a1a" stroke="#1a1a1a" stroke-width="0.15" style="">Storage period (month)</text>
<path d="M71.20,483.10 L73.29,482.78 L75.38,482.46 L77.48,482.12 L79.57,481.78 L81.66,481.42 L83.75,481.04 L85.84,480.63 L87.93,480.20 L90.03,479.73 L92.12,479.23 L94.21,478.68 L96.30,478.09 L98.39,477.45 L100.48,476.76 L102.58,476.01 L104.67,475.20 L106.76,474.32 L108.85,473.37 L110.94,472.35 L113.03,471.25 L115.12,470.07 L117.22,468.81 L119.31,467.45 L121.40,466.00 L123.52,464.43 L125.63,462.77 L127.75,461.02 L129.87,459.18 L131.98,457.25 L134.10,455.25 L136.22,453.18 L138.33,451.05 L140.45,448.85 L142.57,446.59 L144.68,444.28 L146.80,441.92 L148.92,439.51 L151.03,437.07 L153.15,434.60 L155.27,432.10 L157.38,429.57 L159.50,427.02 L161.62,424.46 L163.73,421.89 L165.85,419.31 L167.97,416.73 L170.08,414.16 L172.20,411.60 L174.30,409.07 L176.40,406.56 L178.50,404.07 L180.60,401.60 L182.70,399.15 L184.80,396.74 L186.90,394.36 L189.00,392.01 L191.10,389.70 L193.20,387.42 L195.30,385.20 L197.40,383.01 L199.50,380.88 L201.60,378.80 L203.70,376.77 L205.80,374.81 L207.90,372.90 L210.00,371.06 L212.10,369.28 L214.20,367.57 L216.30,365.94 L218.40,364.38 L220.50,362.90 L222.60,361.50 L224.71,360.18 L226.82,358.94 L228.92,357.78 L231.03,356.69 L233.14,355.67 L235.25,354.72 L237.36,353.84 L239.47,353.01 L241.57,352.24 L243.68,351.53 L245.79,350.86 L247.90,350.24 L250.01,349.66 L252.12,349.13 L254.22,348.62 L256.33,348.15 L258.44,347.71 L260.55,347.29 L262.66,346.89 L264.77,346.51 L266.88,346.15 L268.98,345.79 L271.09,345.44 L273.20,345.10" fill="none" stroke="#000" stroke-width="1.15" stroke-dasharray="4.2 5.7" stroke-linejoin="round"/>
<path d="M71.20,483.10 L73.29,483.72 L75.38,484.33 L77.48,484.93 L79.57,485.50 L81.66,486.06 L83.75,486.58 L85.84,487.06 L87.93,487.50 L90.03,487.88 L92.12,488.21 L94.21,488.47 L96.30,488.66 L98.39,488.78 L100.48,488.81 L102.58,488.75 L104.67,488.59 L106.76,488.34 L108.85,487.97 L110.94,487.48 L113.03,486.88 L115.12,486.14 L117.22,485.27 L119.31,484.26 L121.40,483.10 L123.52,481.77 L125.63,480.30 L127.75,478.68 L129.87,476.95 L131.98,475.10 L134.10,473.14 L136.22,471.10 L138.33,468.97 L140.45,466.77 L142.57,464.51 L144.68,462.21 L146.80,459.87 L148.92,457.50 L151.03,455.12 L153.15,452.73 L155.27,450.35 L157.38,447.99 L159.50,445.66 L161.62,443.37 L163.73,441.13 L165.85,438.95 L167.97,436.85 L170.08,434.82 L172.20,432.90 L174.30,431.09 L176.40,429.39 L178.50,427.78 L180.60,426.27 L182.70,424.85 L184.80,423.52 L186.90,422.28 L189.00,421.12 L191.10,420.03 L193.20,419.03 L195.30,418.10 L197.40,417.24 L199.50,416.45 L201.60,415.72 L203.70,415.05 L205.80,414.45 L207.90,413.89 L210.00,413.39 L212.10,412.94 L214.20,412.53 L216.30,412.17 L218.40,411.84 L220.50,411.55 L222.60,411.30 L224.71,411.08 L226.82,410.88 L228.92,410.71 L231.03,410.57 L233.14,410.46 L235.25,410.36 L237.36,410.30 L239.47,410.25 L241.57,410.22 L243.68,410.21 L245.79,410.22 L247.90,410.25 L250.01,410.29 L252.12,410.35 L254.22,410.42 L256.33,410.50 L258.44,410.59 L260.55,410.69 L262.66,410.80 L264.77,410.91 L266.88,411.03 L268.98,411.15 L271.09,411.27 L273.20,411.40" fill="none" stroke="#e0141e" stroke-width="1.25"  stroke-linejoin="round"/>
<line x1="71.20" y1="473.10" x2="71.20" y2="492.80" stroke="#e0141e" stroke-width="1.0" />
<line x1="68.60" y1="473.10" x2="73.80" y2="473.10" stroke="#e0141e" stroke-width="1.0" />
<line x1="68.60" y1="492.80" x2="73.80" y2="492.80" stroke="#e0141e" stroke-width="1.0" />
<line x1="121.40" y1="473.10" x2="121.40" y2="492.80" stroke="#e0141e" stroke-width="1.0" />
<line x1="118.80" y1="473.10" x2="124.00" y2="473.10" stroke="#e0141e" stroke-width="1.0" />
<line x1="118.80" y1="492.80" x2="124.00" y2="492.80" stroke="#e0141e" stroke-width="1.0" />
<line x1="172.20" y1="423.30" x2="172.20" y2="442.50" stroke="#e0141e" stroke-width="1.0" />
<line x1="169.60" y1="423.30" x2="174.80" y2="423.30" stroke="#e0141e" stroke-width="1.0" />
<line x1="169.60" y1="442.50" x2="174.80" y2="442.50" stroke="#e0141e" stroke-width="1.0" />
<line x1="222.60" y1="394.60" x2="222.60" y2="427.90" stroke="#e0141e" stroke-width="1.0" />
<line x1="220.00" y1="394.60" x2="225.20" y2="394.60" stroke="#e0141e" stroke-width="1.0" />
<line x1="220.00" y1="427.90" x2="225.20" y2="427.90" stroke="#e0141e" stroke-width="1.0" />
<line x1="273.20" y1="394.50" x2="273.20" y2="427.90" stroke="#ee4048" stroke-width="1.0" />
<line x1="270.60" y1="394.50" x2="275.80" y2="394.50" stroke="#ee4048" stroke-width="1.0" />
<line x1="270.60" y1="427.90" x2="275.80" y2="427.90" stroke="#ee4048" stroke-width="1.0" />
<line x1="121.40" y1="456.50" x2="121.40" y2="476.00" stroke="#000" stroke-width="1.0" />
<line x1="118.80" y1="456.50" x2="124.00" y2="456.50" stroke="#000" stroke-width="1.0" />
<line x1="118.80" y1="476.00" x2="124.00" y2="476.00" stroke="#000" stroke-width="1.0" />
<line x1="172.20" y1="394.60" x2="172.20" y2="428.60" stroke="#000" stroke-width="1.0" />
<line x1="169.60" y1="394.60" x2="174.80" y2="394.60" stroke="#000" stroke-width="1.0" />
<line x1="169.60" y1="428.60" x2="174.80" y2="428.60" stroke="#000" stroke-width="1.0" />
<line x1="222.60" y1="344.60" x2="222.60" y2="378.20" stroke="#000" stroke-width="1.0" />
<line x1="220.00" y1="344.60" x2="225.20" y2="344.60" stroke="#000" stroke-width="1.0" />
<line x1="220.00" y1="378.20" x2="225.20" y2="378.20" stroke="#000" stroke-width="1.0" />
<line x1="273.20" y1="328.70" x2="273.20" y2="361.60" stroke="#444" stroke-width="1.0" />
<line x1="270.60" y1="328.70" x2="275.80" y2="328.70" stroke="#444" stroke-width="1.0" />
<line x1="270.60" y1="361.60" x2="275.80" y2="361.60" stroke="#444" stroke-width="1.0" />
<rect x="69.25" y="481.15" width="3.9" height="3.9" fill="#000"/>
<rect x="119.45" y="464.05" width="3.9" height="3.9" fill="#000"/>
<rect x="170.25" y="409.65" width="3.9" height="3.9" fill="#000"/>
<rect x="220.65" y="359.55" width="3.9" height="3.9" fill="#000"/>
<rect x="271.25" y="343.15" width="3.9" height="3.9" fill="#000"/>
<rect x="69.25" y="481.15" width="3.9" height="3.9" fill="#e0141e"/>
<rect x="119.45" y="481.15" width="3.9" height="3.9" fill="#e0141e"/>
<rect x="170.25" y="430.95" width="3.9" height="3.9" fill="#e0141e"/>
<rect x="220.65" y="409.35" width="3.9" height="3.9" fill="#e0141e"/>
<rect x="271.25" y="409.45" width="3.9" height="3.9" fill="#e0141e"/>
<rect x="225.8" y="479.9" width="63.89999999999998" height="22.200000000000045" fill="#fff" stroke="#262626" stroke-width="1.15"/>
<line x1="236.20" y1="486.30" x2="240.60" y2="486.30" stroke="#000" stroke-width="1.1" />
<line x1="246.00" y1="486.30" x2="251.30" y2="486.30" stroke="#000" stroke-width="1.1" />
<rect x="244.20" y="484.50" width="3.6" height="3.6" fill="#000"/>
<text x="258.00" y="489.40" font-size="8.7" text-anchor="start" font-weight="normal" fill="#1a1a1a" stroke="#1a1a1a" stroke-width="0.12" style="">3 layers</text>
<line x1="236.20" y1="496.60" x2="255.40" y2="496.60" stroke="#e0141e" stroke-width="1.1" />
<rect x="244.20" y="494.80" width="3.6" height="3.6" fill="#e0141e"/>
<text x="258.00" y="499.70" font-size="8.7" text-anchor="start" font-weight="normal" fill="#1a1a1a" stroke="#1a1a1a" stroke-width="0.12" style="">7 layers</text>
<text x="172.40" y="299.60" font-size="10.5" text-anchor="middle" font-weight="normal" fill="#b0141c" stroke="#b0141c" stroke-width="0.15" style="">Nubaria 1</text>
<path d="M397.60,508.50 L397.60,311.50 L642.80,311.50" fill="none" stroke="#262626" stroke-width="1.15" stroke-linecap="square"/>
<path d="M397.60,508.50 L642.80,508.50" fill="none" stroke="#262626" stroke-width="1.15" stroke-linecap="square"/>
<path d="M642.80,311.50 L642.80,508.50" fill="none" stroke="#555" stroke-width="1.15" stroke-linecap="square"/>
<line x1="421.70" y1="508.50" x2="421.70" y2="512.30" stroke="#262626" stroke-width="1.15" />
<line x1="421.70" y1="311.50" x2="421.70" y2="315.30" stroke="#262626" stroke-width="1.15" />
<text x="0" y="0" transform="translate(421.70,522.50) scale(0.92,1)" font-size="8.9" text-anchor="middle" font-weight="bold" fill="#1a1a1a" stroke="#111" stroke-width="0.22" style="">0</text>
<line x1="470.72" y1="508.50" x2="470.72" y2="512.30" stroke="#262626" stroke-width="1.15" />
<line x1="470.72" y1="311.50" x2="470.72" y2="315.30" stroke="#262626" stroke-width="1.15" />
<text x="0" y="0" transform="translate(470.72,522.50) scale(0.92,1)" font-size="8.9" text-anchor="middle" font-weight="bold" fill="#1a1a1a" stroke="#111" stroke-width="0.22" style="">6</text>
<line x1="519.74" y1="508.50" x2="519.74" y2="512.30" stroke="#262626" stroke-width="1.15" />
<line x1="519.74" y1="311.50" x2="519.74" y2="315.30" stroke="#262626" stroke-width="1.15" />
<text x="0" y="0" transform="translate(519.74,522.50) scale(0.92,1)" font-size="8.9" text-anchor="middle" font-weight="bold" fill="#1a1a1a" stroke="#111" stroke-width="0.22" style="">12</text>
<line x1="568.76" y1="508.50" x2="568.76" y2="512.30" stroke="#262626" stroke-width="1.15" />
<line x1="568.76" y1="311.50" x2="568.76" y2="315.30" stroke="#262626" stroke-width="1.15" />
<text x="0" y="0" transform="translate(568.76,522.50) scale(0.92,1)" font-size="8.9" text-anchor="middle" font-weight="bold" fill="#1a1a1a" stroke="#111" stroke-width="0.22" style="">18</text>
<line x1="617.78" y1="508.50" x2="617.78" y2="512.30" stroke="#262626" stroke-width="1.15" />
<line x1="617.78" y1="311.50" x2="617.78" y2="315.30" stroke="#262626" stroke-width="1.15" />
<text x="0" y="0" transform="translate(617.78,522.50) scale(0.92,1)" font-size="8.9" text-anchor="middle" font-weight="bold" fill="#1a1a1a" stroke="#111" stroke-width="0.22" style="">24</text>
<line x1="397.19" y1="508.50" x2="397.19" y2="510.50" stroke="#262626" stroke-width="1.15" />
<line x1="397.19" y1="311.50" x2="397.19" y2="313.50" stroke="#262626" stroke-width="1.15" />
<line x1="446.21" y1="508.50" x2="446.21" y2="510.50" stroke="#262626" stroke-width="1.15" />
<line x1="446.21" y1="311.50" x2="446.21" y2="313.50" stroke="#262626" stroke-width="1.15" />
<line x1="495.23" y1="508.50" x2="495.23" y2="510.50" stroke="#262626" stroke-width="1.15" />
<line x1="495.23" y1="311.50" x2="495.23" y2="313.50" stroke="#262626" stroke-width="1.15" />
<line x1="544.25" y1="508.50" x2="544.25" y2="510.50" stroke="#262626" stroke-width="1.15" />
<line x1="544.25" y1="311.50" x2="544.25" y2="313.50" stroke="#262626" stroke-width="1.15" />
<line x1="593.27" y1="508.50" x2="593.27" y2="510.50" stroke="#262626" stroke-width="1.15" />
<line x1="593.27" y1="311.50" x2="593.27" y2="313.50" stroke="#262626" stroke-width="1.15" />
<line x1="642.29" y1="508.50" x2="642.29" y2="510.50" stroke="#262626" stroke-width="1.15" />
<line x1="642.29" y1="311.50" x2="642.29" y2="313.50" stroke="#262626" stroke-width="1.15" />
<line x1="393.80" y1="498.04" x2="397.60" y2="498.04" stroke="#262626" stroke-width="1.15" />
<text x="0" y="0" transform="translate(390.40,500.89) scale(0.92,1)" font-size="8.9" text-anchor="end" font-weight="bold" fill="#1a1a1a" stroke="#111" stroke-width="0.22" style="">13.6</text>
<line x1="393.80" y1="477.32" x2="397.60" y2="477.32" stroke="#262626" stroke-width="1.15" />
<text x="0" y="0" transform="translate(390.40,480.17) scale(0.92,1)" font-size="8.9" text-anchor="end" font-weight="bold" fill="#1a1a1a" stroke="#111" stroke-width="0.22" style="">13.8</text>
<line x1="393.80" y1="456.60" x2="397.60" y2="456.60" stroke="#262626" stroke-width="1.15" />
<text x="0" y="0" transform="translate(390.40,459.45) scale(0.92,1)" font-size="8.9" text-anchor="end" font-weight="bold" fill="#1a1a1a" stroke="#111" stroke-width="0.22" style="">14.0</text>
<line x1="393.80" y1="435.88" x2="397.60" y2="435.88" stroke="#262626" stroke-width="1.15" />
<text x="0" y="0" transform="translate(390.40,438.73) scale(0.92,1)" font-size="8.9" text-anchor="end" font-weight="bold" fill="#1a1a1a" stroke="#111" stroke-width="0.22" style="">14.2</text>
<line x1="393.80" y1="415.16" x2="397.60" y2="415.16" stroke="#262626" stroke-width="1.15" />
<text x="0" y="0" transform="translate(390.40,418.01) scale(0.92,1)" font-size="8.9" text-anchor="end" font-weight="bold" fill="#1a1a1a" stroke="#111" stroke-width="0.22" style="">14.4</text>
<line x1="393.80" y1="394.44" x2="397.60" y2="394.44" stroke="#262626" stroke-width="1.15" />
<text x="0" y="0" transform="translate(390.40,397.29) scale(0.92,1)" font-size="8.9" text-anchor="end" font-weight="bold" fill="#1a1a1a" stroke="#111" stroke-width="0.22" style="">14.6</text>
<line x1="393.80" y1="373.72" x2="397.60" y2="373.72" stroke="#262626" stroke-width="1.15" />
<text x="0" y="0" transform="translate(390.40,376.57) scale(0.92,1)" font-size="8.9" text-anchor="end" font-weight="bold" fill="#1a1a1a" stroke="#111" stroke-width="0.22" style="">14.8</text>
<line x1="393.80" y1="353.00" x2="397.60" y2="353.00" stroke="#262626" stroke-width="1.15" />
<text x="0" y="0" transform="translate(390.40,355.85) scale(0.92,1)" font-size="8.9" text-anchor="end" font-weight="bold" fill="#1a1a1a" stroke="#111" stroke-width="0.22" style="">15.0</text>
<line x1="393.80" y1="332.28" x2="397.60" y2="332.28" stroke="#262626" stroke-width="1.15" />
<text x="0" y="0" transform="translate(390.40,335.13) scale(0.92,1)" font-size="8.9" text-anchor="end" font-weight="bold" fill="#1a1a1a" stroke="#111" stroke-width="0.22" style="">15.2</text>
<line x1="393.80" y1="311.56" x2="397.60" y2="311.56" stroke="#262626" stroke-width="1.15" />
<text x="0" y="0" transform="translate(390.40,314.41) scale(0.92,1)" font-size="8.9" text-anchor="end" font-weight="bold" fill="#1a1a1a" stroke="#111" stroke-width="0.22" style="">15.4</text>
<line x1="395.60" y1="487.68" x2="397.60" y2="487.68" stroke="#262626" stroke-width="1.15" />
<line x1="395.60" y1="466.96" x2="397.60" y2="466.96" stroke="#262626" stroke-width="1.15" />
<line x1="395.60" y1="446.24" x2="397.60" y2="446.24" stroke="#262626" stroke-width="1.15" />
<line x1="395.60" y1="425.52" x2="397.60" y2="425.52" stroke="#262626" stroke-width="1.15" />
<line x1="395.60" y1="404.80" x2="397.60" y2="404.80" stroke="#262626" stroke-width="1.15" />
<line x1="395.60" y1="384.08" x2="397.60" y2="384.08" stroke="#262626" stroke-width="1.15" />
<line x1="395.60" y1="363.36" x2="397.60" y2="363.36" stroke="#262626" stroke-width="1.15" />
<line x1="395.60" y1="342.64" x2="397.60" y2="342.64" stroke="#262626" stroke-width="1.15" />
<line x1="395.60" y1="321.92" x2="397.60" y2="321.92" stroke="#262626" stroke-width="1.15" />
<line x1="642.80" y1="330.90" x2="646.60" y2="330.90" stroke="#262626" stroke-width="1.15" />
<line x1="642.80" y1="370.40" x2="646.60" y2="370.40" stroke="#262626" stroke-width="1.15" />
<line x1="642.80" y1="410.00" x2="646.60" y2="410.00" stroke="#262626" stroke-width="1.15" />
<line x1="642.80" y1="449.50" x2="646.60" y2="449.50" stroke="#262626" stroke-width="1.15" />
<line x1="642.80" y1="489.30" x2="646.60" y2="489.30" stroke="#262626" stroke-width="1.15" />
<line x1="642.80" y1="351.30" x2="644.80" y2="351.30" stroke="#262626" stroke-width="1.15" />
<line x1="642.80" y1="390.40" x2="644.80" y2="390.40" stroke="#262626" stroke-width="1.15" />
<line x1="642.80" y1="429.70" x2="644.80" y2="429.70" stroke="#262626" stroke-width="1.15" />
<line x1="642.80" y1="469.20" x2="644.80" y2="469.20" stroke="#262626" stroke-width="1.15" />
<text x="0" y="0" font-size="10.3" text-anchor="middle" fill="#1a1a1a" stroke="#1a1a1a" stroke-width="0.15" transform="translate(365.40,408.60) rotate(-90)">Moisture content (% w.b)</text>
<text x="519.80" y="541.00" font-size="10.25" text-anchor="middle" font-weight="normal" fill="#1a1a1a" stroke="#1a1a1a" stroke-width="0.15" style="">Storage period (month)</text>
<path d="M421.70,456.60 L423.75,454.43 L425.81,452.25 L427.86,450.09 L429.92,447.93 L431.97,445.79 L434.02,443.67 L436.08,441.56 L438.13,439.47 L440.19,437.42 L442.24,435.39 L444.30,433.39 L446.35,431.43 L448.40,429.50 L450.46,427.62 L452.51,425.78 L454.57,423.99 L456.62,422.26 L458.68,420.57 L460.73,418.95 L462.78,417.38 L464.84,415.88 L466.89,414.45 L468.95,413.09 L471.00,411.80 L473.03,410.60 L475.07,409.47 L477.10,408.41 L479.13,407.41 L481.17,406.47 L483.20,405.58 L485.23,404.75 L487.27,403.96 L489.30,403.21 L491.33,402.50 L493.37,401.83 L495.40,401.18 L497.43,400.56 L499.47,399.96 L501.50,399.38 L503.53,398.81 L505.57,398.24 L507.60,397.69 L509.63,397.13 L511.67,396.57 L513.70,396.00 L515.73,395.42 L517.77,394.82 L519.80,394.20 L521.85,393.55 L523.90,392.88 L525.95,392.18 L528.00,391.46 L530.05,390.72 L532.10,389.96 L534.15,389.18 L536.20,388.38 L538.25,387.56 L540.30,386.72 L542.35,385.87 L544.40,385.00 L546.45,384.12 L548.50,383.22 L550.55,382.31 L552.60,381.39 L554.65,380.46 L556.70,379.52 L558.75,378.56 L560.80,377.60 L562.85,376.64 L564.90,375.66 L566.95,374.68 L569.00,373.70 L571.03,372.72 L573.07,371.74 L575.10,370.75 L577.13,369.76 L579.17,368.77 L581.20,367.77 L583.23,366.77 L585.27,365.77 L587.30,364.76 L589.33,363.76 L591.37,362.75 L593.40,361.74 L595.43,360.72 L597.47,359.71 L599.50,358.69 L601.53,357.67 L603.57,356.65 L605.60,355.63 L607.63,354.61 L609.67,353.59 L611.70,352.57 L613.73,351.55 L615.77,350.52 L617.80,349.50" fill="none" stroke="#000" stroke-width="1.15" stroke-dasharray="4.2 5.7" stroke-linejoin="round"/>
<path d="M421.70,456.60 L423.75,455.19 L425.81,453.78 L427.86,452.37 L429.92,450.97 L431.97,449.59 L434.02,448.21 L436.08,446.85 L438.13,445.51 L440.19,444.19 L442.24,442.89 L444.30,441.61 L446.35,440.37 L448.40,439.15 L450.46,437.97 L452.51,436.82 L454.57,435.71 L456.62,434.64 L458.68,433.62 L460.73,432.63 L462.78,431.70 L464.84,430.82 L466.89,429.99 L468.95,429.22 L471.00,428.50 L473.03,427.85 L475.07,427.25 L477.10,426.71 L479.13,426.21 L481.17,425.75 L483.20,425.32 L485.23,424.93 L487.27,424.56 L489.30,424.21 L491.33,423.88 L493.37,423.56 L495.40,423.24 L497.43,422.93 L499.47,422.61 L501.50,422.29 L503.53,421.95 L505.57,421.59 L507.60,421.21 L509.63,420.81 L511.67,420.37 L513.70,419.90 L515.73,419.38 L517.77,418.82 L519.80,418.20 L521.85,417.52 L523.90,416.79 L525.95,416.01 L528.00,415.19 L530.05,414.32 L532.10,413.41 L534.15,412.46 L536.20,411.48 L538.25,410.46 L540.30,409.43 L542.35,408.36 L544.40,407.28 L546.45,406.19 L548.50,405.08 L550.55,403.95 L552.60,402.83 L554.65,401.70 L556.70,400.57 L558.75,399.45 L560.80,398.33 L562.85,397.22 L564.90,396.13 L566.95,395.05 L569.00,394.00 L571.03,392.98 L573.07,391.98 L575.10,391.00 L577.13,390.05 L579.17,389.11 L581.20,388.19 L583.23,387.29 L585.27,386.41 L587.30,385.55 L589.33,384.70 L591.37,383.86 L593.40,383.04 L595.43,382.22 L597.47,381.42 L599.50,380.63 L601.53,379.85 L603.57,379.08 L605.60,378.31 L607.63,377.55 L609.67,376.79 L611.70,376.04 L613.73,375.29 L615.77,374.55 L617.80,373.80" fill="none" stroke="#e0141e" stroke-width="1.25"  stroke-linejoin="round"/>
<line x1="471.00" y1="406.20" x2="471.00" y2="450.60" stroke="#e0141e" stroke-width="1.0" />
<line x1="468.80" y1="406.20" x2="473.20" y2="406.20" stroke="#e0141e" stroke-width="1.0" />
<line x1="468.80" y1="450.60" x2="473.20" y2="450.60" stroke="#e0141e" stroke-width="1.0" />
<line x1="519.80" y1="405.80" x2="519.80" y2="430.90" stroke="#f0a0a0" stroke-width="1.0" />
<line x1="517.60" y1="405.80" x2="522.00" y2="405.80" stroke="#f0a0a0" stroke-width="1.0" />
<line x1="517.60" y1="430.90" x2="522.00" y2="430.90" stroke="#f0a0a0" stroke-width="1.0" />
<line x1="569.00" y1="385.20" x2="569.00" y2="404.00" stroke="#e0141e" stroke-width="1.0" />
<line x1="566.80" y1="385.20" x2="571.20" y2="385.20" stroke="#e0141e" stroke-width="1.0" />
<line x1="566.80" y1="404.00" x2="571.20" y2="404.00" stroke="#e0141e" stroke-width="1.0" />
<line x1="617.80" y1="363.40" x2="617.80" y2="384.30" stroke="#e0141e" stroke-width="1.0" />
<line x1="615.60" y1="363.40" x2="620.00" y2="363.40" stroke="#e0141e" stroke-width="1.0" />
<line x1="615.60" y1="384.30" x2="620.00" y2="384.30" stroke="#e0141e" stroke-width="1.0" />
<line x1="471.00" y1="406.20" x2="471.00" y2="418.20" stroke="#000" stroke-width="1.0" />
<line x1="468.80" y1="406.20" x2="473.20" y2="406.20" stroke="#000" stroke-width="1.0" />
<line x1="468.80" y1="418.20" x2="473.20" y2="418.20" stroke="#000" stroke-width="1.0" />
<line x1="519.80" y1="358.50" x2="519.80" y2="429.90" stroke="#b0b0b0" stroke-width="1.0" />
<line x1="517.60" y1="358.50" x2="522.00" y2="358.50" stroke="#b0b0b0" stroke-width="1.0" />
<line x1="517.60" y1="429.90" x2="522.00" y2="429.90" stroke="#b0b0b0" stroke-width="1.0" />
<line x1="569.00" y1="358.60" x2="569.00" y2="389.20" stroke="#000" stroke-width="1.0" />
<line x1="566.80" y1="358.60" x2="571.20" y2="358.60" stroke="#000" stroke-width="1.0" />
<line x1="566.80" y1="389.20" x2="571.20" y2="389.20" stroke="#000" stroke-width="1.0" />
<line x1="617.80" y1="343.30" x2="617.80" y2="356.20" stroke="#000" stroke-width="1.0" />
<line x1="615.60" y1="343.30" x2="620.00" y2="343.30" stroke="#000" stroke-width="1.0" />
<line x1="615.60" y1="356.20" x2="620.00" y2="356.20" stroke="#000" stroke-width="1.0" />
<rect x="419.75" y="454.65" width="3.9" height="3.9" fill="#000"/>
<rect x="469.05" y="409.85" width="3.9" height="3.9" fill="#000"/>
<rect x="517.85" y="392.25" width="3.9" height="3.9" fill="#000"/>
<rect x="567.05" y="371.75" width="3.9" height="3.9" fill="#000"/>
<rect x="615.85" y="347.55" width="3.9" height="3.9" fill="#000"/>
<rect x="419.75" y="454.65" width="3.9" height="3.9" fill="#e0141e"/>
<rect x="469.05" y="426.55" width="3.9" height="3.9" fill="#e0141e"/>
<rect x="517.85" y="416.25" width="3.9" height="3.9" fill="#e0141e"/>
<rect x="567.05" y="392.05" width="3.9" height="3.9" fill="#e0141e"/>
<rect x="615.85" y="371.85" width="3.9" height="3.9" fill="#e0141e"/>
<rect x="572.6" y="478.2" width="61.10000000000002" height="22.400000000000034" fill="#fff" stroke="#262626" stroke-width="1.15"/>
<line x1="582.20" y1="484.60" x2="586.60" y2="484.60" stroke="#000" stroke-width="1.1" />
<line x1="592.00" y1="484.60" x2="597.30" y2="484.60" stroke="#000" stroke-width="1.1" />
<rect x="590.20" y="482.80" width="3.6" height="3.6" fill="#000"/>
<text x="603.90" y="487.70" font-size="8.35" text-anchor="start" font-weight="normal" fill="#1a1a1a" stroke="#1a1a1a" stroke-width="0.12" style="">3 layers</text>
<line x1="582.20" y1="494.90" x2="602.20" y2="494.90" stroke="#e0141e" stroke-width="1.1" />
<rect x="590.20" y="493.10" width="3.6" height="3.6" fill="#e0141e"/>
<text x="603.90" y="498.00" font-size="8.35" text-anchor="start" font-weight="normal" fill="#1a1a1a" stroke="#1a1a1a" stroke-width="0.12" style="">7 layers</text>
<text x="521.00" y="299.60" font-size="10.5" text-anchor="middle" font-weight="normal" fill="#b0141c" stroke="#b0141c" stroke-width="0.15" style="">Giza 716</text>
</g>
</svg></body></html>
